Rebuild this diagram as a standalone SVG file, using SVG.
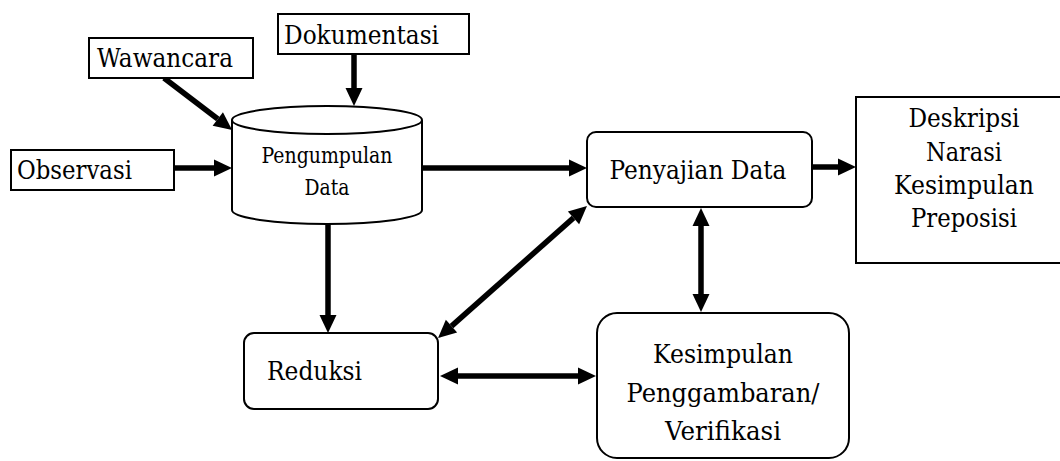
<svg xmlns="http://www.w3.org/2000/svg" width="1060" height="461" viewBox="0 0 1060 461">
  <style>
    .box { fill: #ffffff; stroke: #000000; stroke-width: 2; }
    .txt { font-family: "DejaVu Serif", serif; font-size: 26px; fill: #000000; }
    .small { font-size: 21.5px; }
    .mid { text-anchor: middle; }
    .arrow { stroke: #000000; stroke-width: 5.5; fill: none; marker-end: url(#head); }
    .both { marker-start: url(#head); }
  </style>
  <defs>
    <!-- solid triangular arrowhead, drawn from its base at the line end -->
    <marker id="head" markerUnits="userSpaceOnUse" markerWidth="19" markerHeight="18" refX="0" refY="8.5" orient="auto-start-reverse" overflow="visible">
      <path d="M0,0 L18,8.5 L0,17 Z" fill="#000000"/>
    </marker>
  </defs>

  <rect width="1060" height="461" fill="#ffffff"/>

  <g id="connectors">
    <!-- Dokumentasi to Pengumpulan Data -->
    <line class="arrow" x1="354" y1="54" x2="354" y2="88"/>
    <!-- Wawancara to Pengumpulan Data -->
    <line class="arrow" x1="164" y1="78" x2="217.8" y2="119"/>
    <!-- Observasi to Pengumpulan Data -->
    <line class="arrow" x1="174" y1="168" x2="214" y2="168"/>
    <!-- Pengumpulan Data to Penyajian Data -->
    <line class="arrow" x1="422" y1="168" x2="569" y2="168"/>
    <!-- Penyajian Data to Deskripsi -->
    <line class="arrow" x1="813" y1="167" x2="838" y2="167"/>
    <!-- Pengumpulan Data to Reduksi -->
    <line class="arrow" x1="328" y1="224" x2="328" y2="315"/>
    <!-- Reduksi and Penyajian Data -->
    <line class="arrow both" x1="451.5" y1="326.1" x2="573.5" y2="217.9"/>
    <!-- Penyajian Data and Kesimpulan -->
    <line class="arrow both" x1="701" y1="226" x2="701" y2="294"/>
    <!-- Reduksi and Kesimpulan -->
    <line class="arrow both" x1="458" y1="376" x2="578" y2="376"/>
  </g>

  <g id="dokumentasi">
    <rect class="box" x="278" y="14" width="191" height="40"/>
    <text class="txt" x="284" y="44" textLength="155" lengthAdjust="spacingAndGlyphs">Dokumentasi</text>
  </g>

  <g id="wawancara">
    <rect class="box" x="89" y="38" width="164" height="40"/>
    <text class="txt" x="97" y="67" textLength="136" lengthAdjust="spacingAndGlyphs">Wawancara</text>
  </g>

  <g id="observasi">
    <rect class="box" x="11" y="150" width="163" height="40"/>
    <text class="txt" x="17" y="179" textLength="115" lengthAdjust="spacingAndGlyphs">Observasi</text>
  </g>

  <g id="pengumpulan-data">
    <path class="box" d="M232,120 V210 A95,14 0 0 0 422,210 V120"/>
    <ellipse class="box" cx="327" cy="120" rx="95" ry="14"/>
    <text class="txt small mid" x="327" y="163" textLength="131" lengthAdjust="spacingAndGlyphs">Pengumpulan</text>
    <text class="txt small mid" x="327" y="195" textLength="45" lengthAdjust="spacingAndGlyphs">Data</text>
  </g>

  <g id="penyajian-data">
    <rect class="box" x="587" y="132" width="225" height="75" rx="9"/>
    <text class="txt mid" x="698" y="179" textLength="177" lengthAdjust="spacingAndGlyphs">Penyajian Data</text>
  </g>

  <g id="deskripsi">
    <rect class="box" x="856" y="97" width="220" height="166"/>
    <text class="txt mid" x="964" y="127" textLength="111" lengthAdjust="spacingAndGlyphs">Deskripsi</text>
    <text class="txt mid" x="964" y="161" textLength="76" lengthAdjust="spacingAndGlyphs">Narasi</text>
    <text class="txt mid" x="964" y="194" textLength="140" lengthAdjust="spacingAndGlyphs">Kesimpulan</text>
    <text class="txt mid" x="964" y="227" textLength="106" lengthAdjust="spacingAndGlyphs">Preposisi</text>
  </g>

  <g id="reduksi">
    <rect class="box" x="244" y="333" width="194" height="76" rx="10"/>
    <text class="txt" x="267" y="380" textLength="95" lengthAdjust="spacingAndGlyphs">Reduksi</text>
  </g>

  <g id="kesimpulan">
    <rect class="box" x="597" y="313" width="252" height="145" rx="20"/>
    <text class="txt mid" x="723" y="363" textLength="140" lengthAdjust="spacingAndGlyphs">Kesimpulan</text>
    <text class="txt mid" x="723" y="402" textLength="193" lengthAdjust="spacingAndGlyphs">Penggambaran/</text>
    <text class="txt mid" x="723" y="440" textLength="116" lengthAdjust="spacingAndGlyphs">Verifikasi</text>
  </g>
</svg>
